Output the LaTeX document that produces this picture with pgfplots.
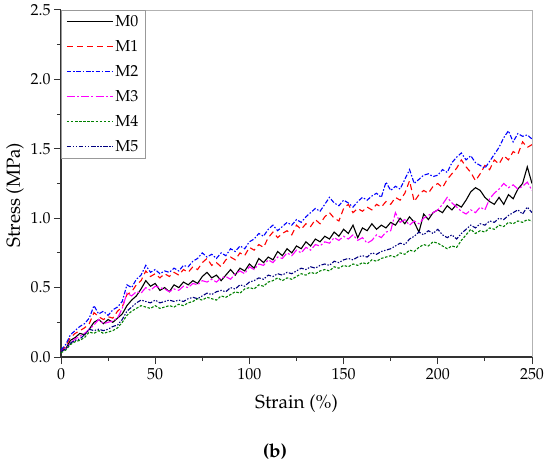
\documentclass[border=0pt]{standalone}
\usepackage[T1]{fontenc}
\usepackage{mathpazo}
\usepackage{pgfplots}
\usepackage{pgfplotstable}
\pgfplotsset{compat=1.18}
\definecolor{cM2}{RGB}{0,0,255}
\definecolor{cM1}{RGB}{255,0,0}
\definecolor{cM3}{RGB}{255,0,255}
\definecolor{cM4}{RGB}{0,128,0}
\definecolor{cM5}{RGB}{0,0,128}
\pgfplotstableread{
x y
0 0.04
2.5 0.06
5 0.12
7.5 0.14
10 0.17
12.5 0.16
15 0.20
17.5 0.25
20 0.27
22.5 0.24
25 0.27
27.5 0.25
30 0.28
32.5 0.31
35 0.37
37.5 0.41
40 0.44
42.5 0.49
45 0.55
47.5 0.51
50 0.53
52.5 0.48
55 0.50
57.5 0.47
60 0.52
62.5 0.50
65 0.54
67.5 0.52
70 0.55
72.5 0.53
75 0.58
77.5 0.61
80 0.57
82.5 0.59
85 0.55
87.5 0.59
90 0.63
92.5 0.59
95 0.64
97.5 0.62
100 0.67
102.5 0.64
105 0.71
107.5 0.68
110 0.72
112.5 0.70
115 0.76
117.5 0.73
120 0.78
122.5 0.75
125 0.80
127.5 0.78
130 0.83
132.5 0.80
135 0.85
137.5 0.83
140 0.87
142.5 0.85
145 0.90
147.5 0.87
150 0.92
152.5 0.89
155 0.95
157.5 0.86
160 0.93
162.5 0.91
165 0.96
167.5 0.92
170 0.95
172.5 0.93
175 0.97
177.5 0.95
180 1.00
182.5 0.96
185 1.01
187.5 0.97
190 0.90
192.5 1.03
195 0.99
197.5 1.04
200 1.06
202.5 1.04
205 1.09
207.5 1.06
210 1.10
212.5 1.08
215 1.13
217.5 1.19
220 1.22
222.5 1.20
225 1.15
227.5 1.12
230 1.10
232.5 1.15
235 1.10
237.5 1.17
240 1.14
242.5 1.21
245 1.25
247.5 1.37
250 1.25
}\dataA
\pgfplotstableread{
x y
0 0.04
2.5 0.08
5 0.14
7.5 0.17
10 0.19
12.5 0.21
15 0.24
17.5 0.32
20 0.29
22.5 0.27
25 0.29
27.5 0.28
30 0.33
32.5 0.36
35 0.45
37.5 0.47
40 0.52
42.5 0.55
45 0.62
47.5 0.58
50 0.60
52.5 0.57
55 0.60
57.5 0.58
60 0.61
62.5 0.59
65 0.63
67.5 0.61
70 0.65
72.5 0.63
75 0.68
77.5 0.71
80 0.66
82.5 0.68
85 0.65
87.5 0.70
90 0.72
92.5 0.70
95 0.75
97.5 0.73
100 0.79
102.5 0.77
105 0.81
107.5 0.79
110 0.86
112.5 0.90
115 0.86
117.5 0.89
120 0.91
122.5 0.88
125 0.95
127.5 0.92
130 0.96
132.5 0.94
135 0.99
137.5 0.96
140 1.01
142.5 1.04
145 1.00
147.5 0.98
150 1.07
152.5 1.10
155 1.04
157.5 1.07
160 1.05
162.5 1.08
165 1.06
167.5 1.10
170 1.08
172.5 1.12
175 1.10
177.5 1.15
180 1.13
182.5 1.18
185 1.27
187.5 1.12
190 1.17
192.5 1.20
195 1.18
197.5 1.23
200 1.25
202.5 1.22
205 1.28
207.5 1.32
210 1.36
212.5 1.42
215 1.37
217.5 1.33
220 1.27
222.5 1.32
225 1.38
227.5 1.35
230 1.42
232.5 1.39
235 1.45
237.5 1.42
240 1.48
242.5 1.46
245 1.55
247.5 1.51
250 1.53
}\dataB
\pgfplotstableread{
x y
0 0.05
2.5 0.09
5 0.16
7.5 0.19
10 0.22
12.5 0.24
15 0.28
17.5 0.37
20 0.31
22.5 0.33
25 0.30
27.5 0.34
30 0.36
32.5 0.40
35 0.52
37.5 0.50
40 0.56
42.5 0.59
45 0.66
47.5 0.61
50 0.63
52.5 0.60
55 0.62
57.5 0.61
60 0.64
62.5 0.62
65 0.66
67.5 0.65
70 0.69
72.5 0.71
75 0.75
77.5 0.72
80 0.74
82.5 0.71
85 0.75
87.5 0.73
90 0.78
92.5 0.76
95 0.80
97.5 0.78
100 0.83
102.5 0.85
105 0.89
107.5 0.87
110 0.92
112.5 0.95
115 0.91
117.5 0.94
120 0.97
122.5 0.95
125 0.99
127.5 0.97
130 1.01
132.5 1.04
135 1.07
137.5 1.05
140 1.10
142.5 1.15
145 1.11
147.5 1.09
150 1.13
152.5 1.11
155 1.08
157.5 1.12
160 1.15
162.5 1.13
165 1.16
167.5 1.18
170 1.15
172.5 1.26
175 1.20
177.5 1.23
180 1.21
182.5 1.28
185 1.35
187.5 1.25
190 1.28
192.5 1.31
195 1.32
197.5 1.30
200 1.31
202.5 1.35
205 1.33
207.5 1.40
210 1.44
212.5 1.47
215 1.42
217.5 1.45
220 1.40
222.5 1.38
225 1.36
227.5 1.41
230 1.46
232.5 1.51
235 1.58
237.5 1.63
240 1.55
242.5 1.61
245 1.59
247.5 1.60
250 1.57
}\dataC
\pgfplotstableread{
x y
0 0.04
2.5 0.06
5 0.10
7.5 0.13
10 0.15
12.5 0.17
15 0.20
17.5 0.23
20 0.27
22.5 0.24
25 0.25
27.5 0.26
30 0.28
32.5 0.35
35 0.46
37.5 0.44
40 0.47
42.5 0.46
45 0.50
47.5 0.48
50 0.51
52.5 0.50
55 0.49
57.5 0.47
60 0.49
62.5 0.48
65 0.51
67.5 0.50
70 0.53
72.5 0.52
75 0.55
77.5 0.54
80 0.56
82.5 0.54
85 0.57
87.5 0.58
90 0.56
92.5 0.60
95 0.62
97.5 0.60
100 0.65
102.5 0.63
105 0.67
107.5 0.66
110 0.70
112.5 0.68
115 0.72
117.5 0.71
120 0.75
122.5 0.73
125 0.77
127.5 0.75
130 0.79
132.5 0.77
135 0.81
137.5 0.80
140 0.83
142.5 0.82
145 0.86
147.5 0.84
150 0.87
152.5 0.85
155 0.88
157.5 0.84
160 0.86
162.5 0.82
165 0.84
167.5 0.88
170 0.86
172.5 0.90
175 0.91
177.5 1.04
180 0.97
182.5 0.99
185 0.95
187.5 0.98
190 0.96
192.5 1.00
195 1.02
197.5 1.04
200 1.06
202.5 1.10
205 1.15
207.5 1.11
210 1.08
212.5 1.05
215 1.03
217.5 1.06
220 1.04
222.5 1.08
225 1.06
227.5 1.14
230 1.18
232.5 1.21
235 1.25
237.5 1.22
240 1.24
242.5 1.21
245 1.23
247.5 1.26
250 1.20
}\dataD
\pgfplotstableread{
x y
0 0.03
2.5 0.05
5 0.09
7.5 0.11
10 0.12
12.5 0.14
15 0.18
17.5 0.17
20 0.19
22.5 0.17
25 0.18
27.5 0.19
30 0.21
32.5 0.25
35 0.30
37.5 0.33
40 0.35
42.5 0.37
45 0.36
47.5 0.35
50 0.37
52.5 0.35
55 0.36
57.5 0.37
60 0.36
62.5 0.38
65 0.37
67.5 0.39
70 0.40
72.5 0.42
75 0.41
77.5 0.43
80 0.42
82.5 0.41
85 0.44
87.5 0.43
90 0.45
92.5 0.47
95 0.46
97.5 0.49
100 0.50
102.5 0.49
105 0.52
107.5 0.51
110 0.54
112.5 0.55
115 0.57
117.5 0.55
120 0.57
122.5 0.56
125 0.58
127.5 0.60
130 0.59
132.5 0.61
135 0.60
137.5 0.62
140 0.63
142.5 0.62
145 0.65
147.5 0.64
150 0.66
152.5 0.65
155 0.67
157.5 0.66
160 0.68
162.5 0.67
165 0.70
167.5 0.69
170 0.71
172.5 0.72
175 0.73
177.5 0.72
180 0.75
182.5 0.74
185 0.77
187.5 0.76
190 0.79
192.5 0.81
195 0.80
197.5 0.83
200 0.82
202.5 0.80
205 0.78
207.5 0.80
210 0.79
212.5 0.84
215 0.88
217.5 0.92
220 0.89
222.5 0.91
225 0.90
227.5 0.93
230 0.92
232.5 0.95
235 0.94
237.5 0.97
240 0.96
242.5 0.98
245 0.97
247.5 0.99
250 0.98
}\dataE
\pgfplotstableread{
x y
0 0.04
2.5 0.06
5 0.10
7.5 0.12
10 0.13
12.5 0.16
15 0.20
17.5 0.19
20 0.20
22.5 0.19
25 0.20
27.5 0.22
30 0.23
32.5 0.27
35 0.33
37.5 0.36
40 0.39
42.5 0.41
45 0.40
47.5 0.39
50 0.41
52.5 0.39
55 0.40
57.5 0.41
60 0.40
62.5 0.41
65 0.40
67.5 0.42
70 0.43
72.5 0.42
75 0.44
77.5 0.46
80 0.45
82.5 0.47
85 0.48
87.5 0.47
90 0.50
92.5 0.49
95 0.52
97.5 0.51
100 0.54
102.5 0.55
105 0.57
107.5 0.56
110 0.59
112.5 0.58
115 0.60
117.5 0.59
120 0.61
122.5 0.60
125 0.62
127.5 0.64
130 0.63
132.5 0.65
135 0.64
137.5 0.66
140 0.67
142.5 0.66
145 0.69
147.5 0.68
150 0.70
152.5 0.71
155 0.70
157.5 0.72
160 0.73
162.5 0.72
165 0.75
167.5 0.74
170 0.76
172.5 0.77
175 0.78
177.5 0.80
180 0.82
182.5 0.81
185 0.85
187.5 0.87
190 0.90
192.5 0.88
195 0.91
197.5 0.89
200 0.92
202.5 0.88
205 0.86
207.5 0.88
210 0.85
212.5 0.89
215 0.92
217.5 0.95
220 0.93
222.5 0.96
225 0.95
227.5 0.98
230 0.97
232.5 1.00
235 0.99
237.5 1.02
240 1.04
242.5 1.06
245 1.03
247.5 1.08
250 1.04
}\dataF
\begin{document}
\begin{tikzpicture}
\path (-61bp,-110bp) rectangle (489bp,357bp);
\begin{axis}[
  scale only axis,
  width=471bp, height=347bp,
  xmin=0, xmax=250, ymin=0, ymax=2.5,
  axis x line*=bottom, axis y line*=left,
  axis line style={black!80, line width=1.1bp, -},
  xtick={0,50,...,250}, ytick={0,0.5,...,2.5},
  minor x tick num=1, minor y tick num=1,
  tick align=outside,
  major tick length=7bp, minor tick length=4bp,
  tick style={black!80, line width=1bp},
  yticklabel style={/pgf/number format/fixed,/pgf/number format/fixed zerofill,/pgf/number format/precision=1},
  ticklabel style={font=\fontsize{16}{19}\selectfont},
  xticklabel style={yshift=-1bp},
  every axis plot/.append style={line width=1.1bp},
  legend style={at={(0,1)}, anchor=north west, draw=black!40, line width=0.6bp,
    font=\fontsize{16}{19}\selectfont, inner xsep=5bp, inner ysep=3bp,
    row sep=8.5bp, cells={anchor=west}},
  legend image code/.code={\draw[#1] (0bp,0bp) -- (46bp,0bp);},
  clip=false,
]
\addplot[draw=black, solid] table {\dataA};
\addlegendentry{M0}
\addplot[draw=cM1, dash pattern=on 6bp off 4bp] table {\dataB};
\addlegendentry{M1}
\addplot[draw=cM2, dash pattern=on 4.5bp off 1.8bp on 1.5bp off 1.8bp] table {\dataC};
\addlegendentry{M2}
\addplot[draw=cM3, dash pattern=on 8bp off 2.2bp on 2bp off 2.2bp] table {\dataD};
\addlegendentry{M3}
\addplot[draw=cM4, dash pattern=on 2.5bp off 1.6bp] table {\dataE};
\addlegendentry{M4}
\addplot[draw=cM5, dash pattern=on 4.5bp off 1.6bp on 1.4bp off 1.6bp on 1.4bp off 1.6bp] table {\dataF};
\addlegendentry{M5}
\draw[black!30, line width=0.8bp] (rel axis cs:0,1) -- (rel axis cs:1,1) -- (rel axis cs:1,0);
\end{axis}
\node[font=\fontsize{19}{22}\selectfont] at (235.5bp,-47bp) {Strain (\%)};
\node[font=\fontsize{19}{22}\selectfont, rotate=90] at (-46bp,162bp) {Stress (MPa)};
\node[font=\fontsize{19}{22}\selectfont\bfseries] at (214bp,-95bp) {(b)};
\end{tikzpicture}
\end{document}
